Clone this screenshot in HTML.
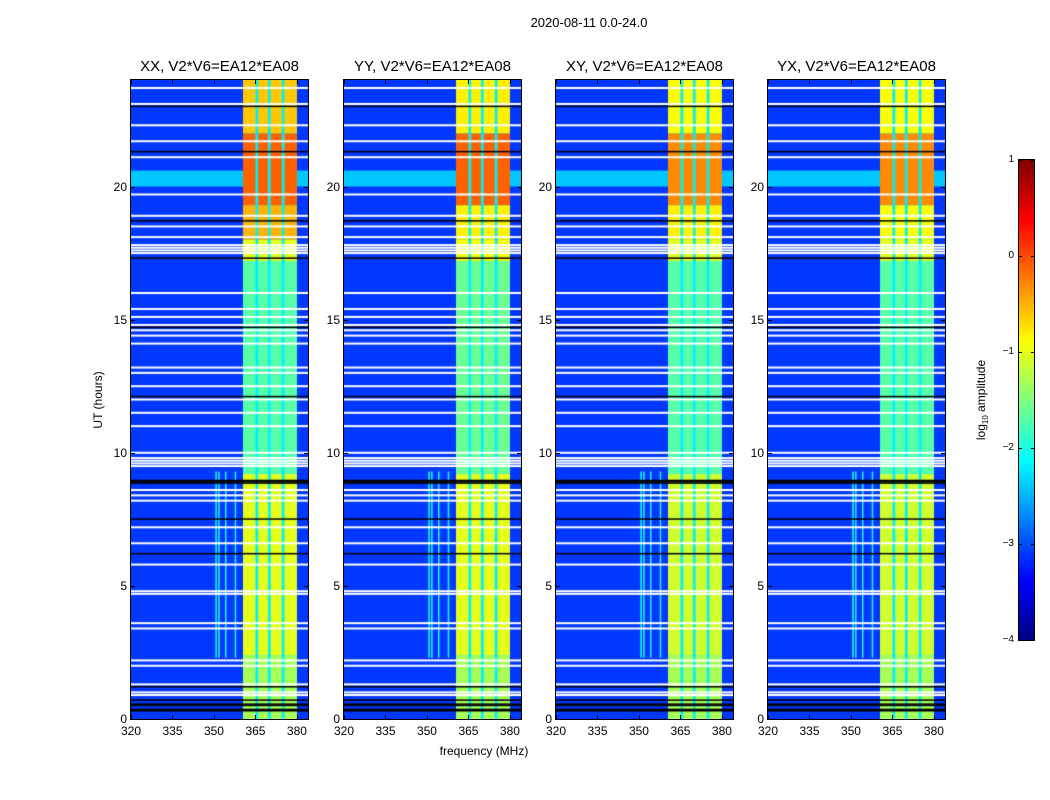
<!DOCTYPE html>
<html><head><meta charset="utf-8">
<style>
body{margin:0;background:#fff;font-family:"Liberation Sans",sans-serif;}
#root{position:relative;width:1050px;height:800px;overflow:hidden;background:#fff}
.abs{position:absolute}
.panel{position:absolute;top:80px;width:177px;height:639px;border:1px solid #000;box-sizing:content-box;margin-left:-1px;margin-top:-1px}
.panel canvas{display:block}
.t{position:absolute;font-size:12px;color:#000;white-space:nowrap}
.ttl{position:absolute;font-size:15px;white-space:nowrap;transform:translateX(-50%)}
.tick{position:absolute;background:#000}
</style></head><body>
<div id="root">
<div class="abs" style="left:589px;top:15px;font-size:13px;transform:translateX(-50%)">2020-08-11 0.0-24.0</div>
<div class="abs" style="left:484px;top:744px;font-size:12px;transform:translateX(-50%)">frequency (MHz)</div>
<div class="abs" style="left:98px;top:400px;font-size:12px;transform:translate(-50%,-50%) rotate(-90deg)">UT (hours)</div>
<canvas id="cbar" class="abs" style="left:1019px;top:160px;border:1px solid #000;margin:-1px 0 0 -1px" width="15" height="480"></canvas>
<div class="abs" style="left:982px;top:400px;font-size:12px;transform:translate(-50%,-50%) rotate(-90deg);white-space:nowrap">log<sub style="font-size:8px">10</sub> amplitude</div>
</div>
<script>
const panelTitles=["XX, V2*V6=EA12*EA08","YY, V2*V6=EA12*EA08","XY, V2*V6=EA12*EA08","YX, V2*V6=EA12*EA08"];
const panelLefts=[131,344,556,768];
const xTicks=[320,335,350,365,380];
const yTicks=[0,5,10,15,20];
const cbTicks=[1,0,-1,-2,-3,-4];
const segStart=[0,2.4,9.2,17.2,18.0,19.3,22.0];
const bandLevelXX=[-1.3,-1.0,-1.7,-1.0,-0.5,-0.1,-0.6];
const bandLevelYY=[-1.3,-1.0,-1.6,-0.9,-0.8,-0.1,-0.8];
const bandLevelXY=[-1.3,-1.1,-1.7,-1.0,-0.8,-0.3,-0.9];
const bandLevelYX=[-1.3,-1.1,-1.7,-1.0,-0.9,-0.3,-0.9];
const bandCols=[[360.5,365],[366,369.5],[370.5,374.5],[375.5,380]];
const bgLevel=-3.1;
const cyanBand=[20.0,20.6,-2.4];
const vertLines=[350.5,351.5,354,357.5];
const vertRange=[2.3,9.3,-2.0];
const whiteRows=[0.9,1.0,1.3,2.0,2.2,3.4,3.6,4.7,4.8,5.8,6.6,7.2,8.2,8.4,8.6,9.5,9.6,9.7,9.8,10.0,11.0,11.5,12.0,12.5,13.0,13.2,14.1,14.4,14.6,14.8,15.1,15.4,16.0,17.5,17.6,17.7,17.8,18.1,18.5,18.9,19.7,21.1,21.7,22.3,23.1,23.7];
const blackRows=[0.3,0.35,0.5,0.55,0.7,1.2,6.2,7.5,8.85,8.9,8.95,12.1,14.7,17.3,18.7,21.3,23.0];
const allBands=[bandLevelXX,bandLevelYY,bandLevelXY,bandLevelYX];
const fMin=320,fMax=384,tMin=0,tMax=24,W=177,H=639;
const xs=f=>(f-fMin)/(fMax-fMin)*W;
const ys=t=>H-(t-tMin)/(tMax-tMin)*H;
function jet(v){let x=(v+4)/5;x=Math.max(0,Math.min(1,x));
 const c=a=>Math.round(255*Math.max(0,Math.min(1,1.5-Math.abs(4*x-a))));
 return `rgb(${c(3)},${c(2)},${c(1)})`;}
const root=document.getElementById('root');
function addTick(l,t,w,h,name){const d=document.createElement('div');d.className='tick';


d.style.cssText=`left:${l}px;top:${t}px;width:${w}px;height:${h}px`;root.appendChild(d);}
function addText(txt,l,t,name,cls){const d=document.createElement('div');d.className=cls||'t';d.textContent=txt;


d.style.left=l+'px';d.style.top=t+'px';root.appendChild(d);return d;}
panelTitles.forEach((title,p)=>{
 const L=panelLefts[p];
 const div=document.createElement('div');div.className='panel';div.style.left=L+'px';
 
 
 const cv=document.createElement('canvas');cv.width=W;cv.height=H;div.appendChild(cv);root.appendChild(div);
 const ctx=cv.getContext('2d');
 ctx.fillStyle=jet(bgLevel);ctx.fillRect(0,0,W,H);
 ctx.fillStyle=jet(cyanBand[2]);ctx.fillRect(0,ys(cyanBand[1]),W,ys(cyanBand[0])-ys(cyanBand[1]));
 vertLines.forEach(f=>{ctx.fillStyle=jet(vertRange[2]);ctx.fillRect(xs(f),ys(vertRange[1]),1.5,ys(vertRange[0])-ys(vertRange[1]));});
 const lv=allBands[p];
 segStart.forEach((s,i)=>{const e=i+1<segStart.length?segStart[i+1]:tMax;
  ctx.fillStyle=jet(-2.2);ctx.fillRect(xs(bandCols[0][0]),ys(e),xs(bandCols[3][1])-xs(bandCols[0][0]),ys(s)-ys(e));
  bandCols.forEach(bc=>{ctx.fillStyle=jet(lv[i]);ctx.fillRect(xs(bc[0]),ys(e),xs(bc[1])-xs(bc[0]),ys(s)-ys(e));});});
 whiteRows.forEach(t=>{ctx.fillStyle='#fff';ctx.fillRect(0,ys(t)-1,W,2);});
 blackRows.forEach(t=>{ctx.fillStyle='#000';ctx.fillRect(0,ys(t)-1,W,1.5);});
 addText(title,L+W/2,58,'panel-title-'+(p+1),'ttl');
 xTicks.forEach(v=>{const x=L+xs(v);addTick(x,80,1,4,'x-tick-top');addTick(x,715,1,4,'x-tick-bottom');
  const d=addText(String(v),x,724,'x-tick-label');d.style.transform='translateX(-50%)';});
 yTicks.forEach(v=>{const y=80+ys(v);addTick(L,y,4,1,'y-tick-left');addTick(L+W-4,y,4,1,'y-tick-right');
  const d=addText(String(v),L-4,y-7,'y-tick-label');d.style.transform='translateX(-100%)';});
});
const cb=document.getElementById('cbar').getContext('2d');
for(let i=0;i<480;i++){cb.fillStyle=jet(1-i/480*5);cb.fillRect(0,i,15,1);}
cbTicks.forEach(v=>{const y=160+(1-v)/5*480;addTick(1019,y,3,1,'colorbar-tick');addTick(1031,y,3,1,'colorbar-tick');
 const d=addText(v<0?'\u2212'+(-v):String(v),1014,y-6,'colorbar-tick-label');d.style.fontSize='10px';d.style.transform='translateX(-100%)';});
</script>
</body></html>
